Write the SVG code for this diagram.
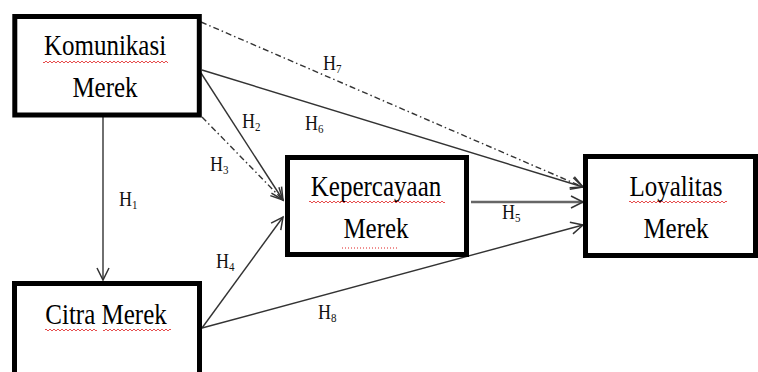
<svg xmlns="http://www.w3.org/2000/svg" width="758" height="372" viewBox="0 0 758 372">
<style>
.box{fill:#fff;stroke:#000;stroke-width:5}
.t{font-family:"Liberation Serif","Times New Roman",serif;font-size:25px;fill:#000;text-anchor:middle}
.h{font-family:"Liberation Serif","Times New Roman",serif;font-size:18px;fill:#111}
.sub{font-size:11px}
.c{fill:none;stroke:#333;stroke-width:1.4}
.dd{stroke-dasharray:6 3 1.5 3}
.wave{fill:url(#wave)}
</style>
<defs>
<pattern id="wave" patternUnits="userSpaceOnUse" width="4" height="4">
<path d="M0,3 L2,1 L4,3" fill="none" stroke="#e02020" stroke-width="0.8"/>
</pattern>
<marker id="arr" markerUnits="userSpaceOnUse" markerWidth="16" markerHeight="16" viewBox="-14 -8 16 16" refX="0" refY="0" orient="auto">
<path d="M-12,-6 L0,0 L-12,6" fill="none" stroke="#333" stroke-width="1.5"/>
</marker>
</defs>
<rect width="758" height="372" fill="#fff"/>
<g id="connectors">
<path id="H1" class="c" d="M103,117 L103,280" marker-end="url(#arr)"/>
<path id="H2" class="c" d="M201,73 L283,200" marker-end="url(#arr)"/>
<path id="H3" class="c dd" d="M202,117 L283,200" marker-end="url(#arr)"/>
<path id="H4" class="c" d="M202,328 L283,217" marker-end="url(#arr)"/>
<path id="H5" d="M471,202 L583,202" fill="none" stroke="#666" stroke-width="2.6" marker-end="url(#arr)"/>
<path id="H6" class="c" d="M202,70 L583,187" marker-end="url(#arr)"/>
<path id="H7" class="c dd" d="M201,22 L583,187" marker-end="url(#arr)"/>
<path id="H8" class="c" d="M202,328 L583,225" marker-end="url(#arr)"/>
</g>
<g id="labels">
<text class="h" transform="translate(119,206) scale(1,1.15)">H<tspan class="sub" dy="3">1</tspan></text>
<text class="h" transform="translate(242,128) scale(1,1.15)">H<tspan class="sub" dy="3">2</tspan></text>
<text class="h" transform="translate(210,171) scale(1,1.15)">H<tspan class="sub" dy="3">3</tspan></text>
<text class="h" transform="translate(216,268) scale(1,1.15)">H<tspan class="sub" dy="3">4</tspan></text>
<text class="h" transform="translate(502,219) scale(1,1.15)">H<tspan class="sub" dy="3">5</tspan></text>
<text class="h" transform="translate(305,130) scale(1,1.15)">H<tspan class="sub" dy="3">6</tspan></text>
<text class="h" transform="translate(323,70) scale(1,1.15)">H<tspan class="sub" dy="3">7</tspan></text>
<text class="h" transform="translate(318,319) scale(1,1.15)">H<tspan class="sub" dy="3">8</tspan></text>
</g>
<g id="komunikasi">
<rect class="box" x="14.8" y="16.5" width="184.5" height="98.5"/>
<text class="t" transform="translate(105,55) scale(1,1.15)">Komunikasi</text>
<text class="t" transform="translate(105,97) scale(1,1.15)">Merek</text>
<rect class="wave" x="43" y="60" width="125" height="4"/>
</g>
<g id="kepercayaan">
<rect class="box" x="287.5" y="157.5" width="179" height="97"/>
<text class="t" transform="translate(376,196) scale(1,1.15)">Kepercayaan</text>
<text class="t" transform="translate(376,238) scale(1,1.15)">Merek</text>
<rect class="wave" x="309" y="200" width="136" height="4"/>
<line x1="342" y1="248" x2="398" y2="248" stroke="#e02020" stroke-width="1" stroke-dasharray="1 2"/>
</g>
<g id="loyalitas">
<rect class="box" x="585.5" y="156.5" width="170" height="99"/>
<text class="t" transform="translate(676,196) scale(1,1.15)">Loyalitas</text>
<text class="t" transform="translate(676,238) scale(1,1.15)">Merek</text>
<rect class="wave" x="629" y="200" width="98" height="4"/>
</g>
<g id="citra">
<rect class="box" x="14.5" y="283.5" width="185" height="100"/>
<text class="t" transform="translate(106,324) scale(1,1.15)">Citra Merek</text>
<rect class="wave" x="45" y="328" width="52" height="4"/>
<rect class="wave" x="103" y="328" width="68" height="4"/>
</g>
</svg>
